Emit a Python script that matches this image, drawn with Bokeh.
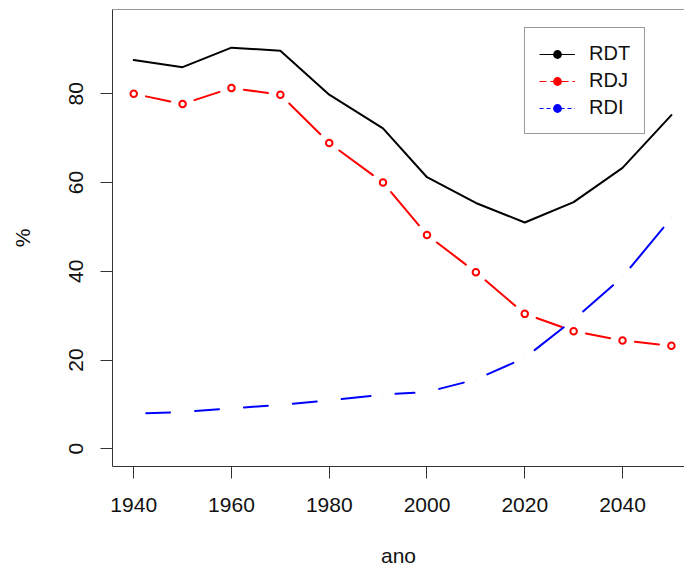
import math
from bokeh.plotting import figure
from bokeh.models import Range1d, FixedTicker, Legend, LegendItem, Span
from bokeh.embed import file_html
from bokeh.resources import INLINE

# ---- data ----
years = [1940, 1950, 1960, 1970, 1980, 1991, 2000, 2010, 2020, 2030, 2040, 2050]
rdt = [87.6, 86.0, 90.4, 89.7, 79.8, 72.2, 61.2, 55.4, 51.0, 55.6, 63.3, 75.2]
rdj = [80.0, 77.7, 81.3, 79.8, 68.9, 60.0, 48.2, 39.8, 30.4, 26.5, 24.4, 23.2]
rdi = [7.9, 8.3, 9.1, 9.9, 10.9, 12.2, 12.8, 15.6, 20.5, 29.1, 38.7, 52.0]
series_names = ["RDT", "RDJ", "RDI"]
x_ticks = [1940, 1960, 1980, 2000, 2020, 2040]
y_ticks = [0, 20, 40, 60, 80]
x_label = "ano"
y_label = "%"

# ---- layout / style ----
FW, FH = 572, 457
X0 = 1935.66
X1 = X0 + FW / 4.888
Y0, Y1 = -4.0, 99.0
FONT = "Liberation Sans"
FS_TICK = "21px"
FS_LAB = "21px"
FS_LEG = "20px"
AXIS_COL = "#333333"
TEXT_COL = "#111111"
GAP_PX = 12.5  # gap left around each point (R type="b")

p = figure(width=684, height=569, output_backend="svg", toolbar_location=None,
           x_range=Range1d(X0, X1), y_range=Range1d(Y0, Y1),
           min_border_left=112, min_border_right=0, min_border_top=9,
           min_border_bottom=103)
p.outline_line_color = None
p.xgrid.visible = False
p.ygrid.visible = False
p.background_fill_color = "white"
p.border_fill_color = "white"

for ax, ticks in ((p.xaxis[0], x_ticks), (p.yaxis[0], y_ticks)):
    ax.ticker = FixedTicker(ticks=ticks)
    ax.axis_line_color = AXIS_COL
    ax.axis_line_width = 1
    ax.major_tick_line_color = AXIS_COL
    ax.major_tick_out = 12
    ax.major_tick_in = 0
    ax.minor_tick_line_color = None
    ax.major_label_text_font = FONT
    ax.major_label_text_font_size = FS_TICK
    ax.major_label_text_color = TEXT_COL
    ax.axis_label_text_font = FONT
    ax.axis_label_text_font_size = FS_LAB
    ax.axis_label_text_font_style = "normal"
    ax.axis_label_text_color = TEXT_COL

p.xaxis[0].axis_label = x_label
p.xaxis[0].major_label_standoff = 19
p.xaxis[0].axis_label_standoff = 29
p.xaxis[0].axis_label_text_line_height = 0.6
p.yaxis[0].axis_label = y_label
p.yaxis[0].major_label_orientation = "vertical"
p.yaxis[0].major_label_standoff = 17
p.yaxis[0].axis_label_standoff = 33

# top border of the box
p.add_layout(Span(location=Y1, dimension="width", line_color=AXIS_COL, line_width=1))

# RDT: plain solid line
p.line(years, rdt, line_color="black", line_width=2, line_join="round", line_cap="round")


def gapped(xs, ys):
    sx = FW / (X1 - X0)
    sy = FH / (Y1 - Y0)
    a0, b0, a1, b1 = [], [], [], []
    for i in range(len(xs) - 1):
        dx = xs[i + 1] - xs[i]
        dy = ys[i + 1] - ys[i]
        L = math.hypot(dx * sx, dy * sy)
        f = GAP_PX / L if L > 0 else 0.5
        a0.append(xs[i] + f * dx)
        b0.append(ys[i] + f * dy)
        a1.append(xs[i + 1] - f * dx)
        b1.append(ys[i + 1] - f * dy)
    return a0, b0, a1, b1


a0, b0, a1, b1 = gapped(years, rdj)
p.segment(x0=a0, y0=b0, x1=a1, y1=b1, line_color="red", line_width=2, line_cap="round")
p.scatter(years, rdj, marker="circle", size=6.5, fill_color=None, line_color="red", line_width=2)

a0, b0, a1, b1 = gapped(years, rdi)
p.segment(x0=a0, y0=b0, x1=a1, y1=b1, line_color="blue", line_width=2, line_cap="round")

# legend-only renderers: zero-length segments and zero-size dots on the data
# (invisible on the plot; the legend draws its own glyph sample)
leg_specs = [("black", "solid", rdt), ("red", "7 4", rdj), ("blue", "4 3", rdi)]
items = []
for name, (col, dash, vals) in zip(series_names, leg_specs):
    lr = p.segment(x0=years, y0=vals, x1=years, y1=vals, line_color=col, line_width=1,
                   line_dash=dash, line_cap="butt")
    dr = p.scatter(years, vals, marker="circle", size=0, fill_color=col, line_color=col,
                   line_width=0)
    items.append(LegendItem(label=name, renderers=[lr, dr]))

legend = Legend(items=items, location=(412, 332), padding=14, glyph_width=36,
                glyph_height=22, label_height=22, label_standoff=14, spacing=4,
                label_text_font=FONT, label_text_font_size=FS_LEG,
                label_text_color=TEXT_COL, border_line_color=AXIS_COL,
                border_line_width=1, background_fill_color="white",
                background_fill_alpha=1.0, margin=0)
p.add_layout(legend)

open("out.html", "w").write(file_html(p, INLINE))
